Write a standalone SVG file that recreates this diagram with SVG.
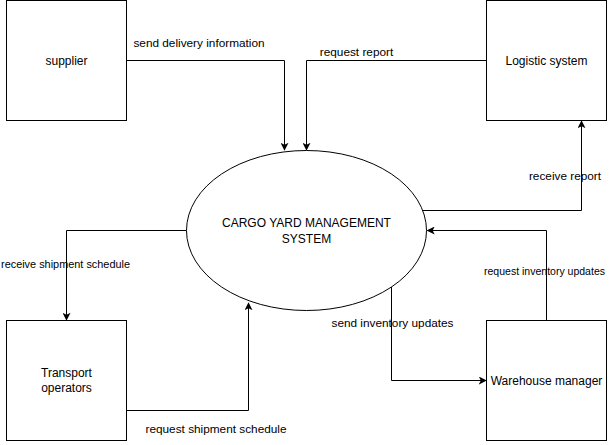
<svg xmlns="http://www.w3.org/2000/svg" width="611" height="445" viewBox="0 0 611 445">
<style>
.box{fill:#fff;stroke:#000;stroke-width:1}
.node{font-family:"Liberation Sans",Arial,sans-serif;font-size:12px;fill:#000;text-anchor:middle}
.lbl{font-family:"Liberation Sans",Arial,sans-serif;font-size:11.8px;fill:#000;text-anchor:middle}
.fit{font-size:11.2px;text-anchor:start}
.edge{fill:none;stroke:#000;stroke-width:1}
</style>
<defs>
<marker id="arr" viewBox="0 0 10 10" refX="9" refY="5" markerWidth="8" markerHeight="8" markerUnits="userSpaceOnUse" orient="auto">
<path d="M0,0 L10,5 L0,10 L2.5,5 z" fill="#000"/>
</marker>
</defs>
<rect width="611" height="445" fill="#fff"/>
<g id="connectors">
<path class="edge" d="M126.5,60.5 H284.5 V150" marker-end="url(#arr)"/>
<path class="edge" d="M486.5,60.5 H306.5 V150" marker-end="url(#arr)"/>
<path class="edge" d="M423,210.5 H581.5 V121" marker-end="url(#arr)"/>
<path class="edge" d="M546.5,320.5 V230.5 H427.5" marker-end="url(#arr)"/>
<path class="edge" d="M391.5,285 V380.5 H486" marker-end="url(#arr)"/>
<path class="edge" d="M186.5,230.5 H66.5 V320" marker-end="url(#arr)"/>
<path class="edge" d="M126.5,410.5 H248.5 V303" marker-end="url(#arr)"/>
<text class="lbl" x="199" y="47">send delivery information</text>
<text class="lbl" x="356.5" y="56">request report</text>
<text class="lbl" x="565" y="180">receive report</text>
<text class="lbl fit" x="484" y="275" font-size="10.8" style="font-size:10.8px" textLength="121" lengthAdjust="spacingAndGlyphs">request inventory updates</text>
<text class="lbl" x="392.5" y="327">send inventory updates</text>
<text class="lbl fit" x="1" y="268" textLength="129" lengthAdjust="spacingAndGlyphs">receive shipment schedule</text>
<text class="lbl" x="216" y="433">request shipment schedule</text>
</g>
<g id="supplier">
<rect class="box" x="6.5" y="0.5" width="120" height="120"/>
<text class="node" x="66.5" y="64.5">supplier</text>
</g>
<g id="logistic">
<rect class="box" x="486.5" y="0.5" width="120" height="120"/>
<text class="node" x="546.5" y="64.5">Logistic system</text>
</g>
<g id="system">
<ellipse class="box" cx="306.5" cy="230.5" rx="120" ry="80"/>
<text class="node" x="306.5" y="226.5">CARGO YARD MANAGEMENT</text>
<text class="node" x="306.5" y="242.5">SYSTEM</text>
</g>
<g id="transport">
<rect class="box" x="6.5" y="320.5" width="120" height="120"/>
<text class="node" x="66.5" y="377">Transport</text>
<text class="node" x="66.5" y="392">operators</text>
</g>
<g id="warehouse">
<rect class="box" x="486.5" y="320.5" width="120" height="120"/>
<text class="node" x="546.5" y="384.5">Warehouse manager</text>
</g>
</svg>
